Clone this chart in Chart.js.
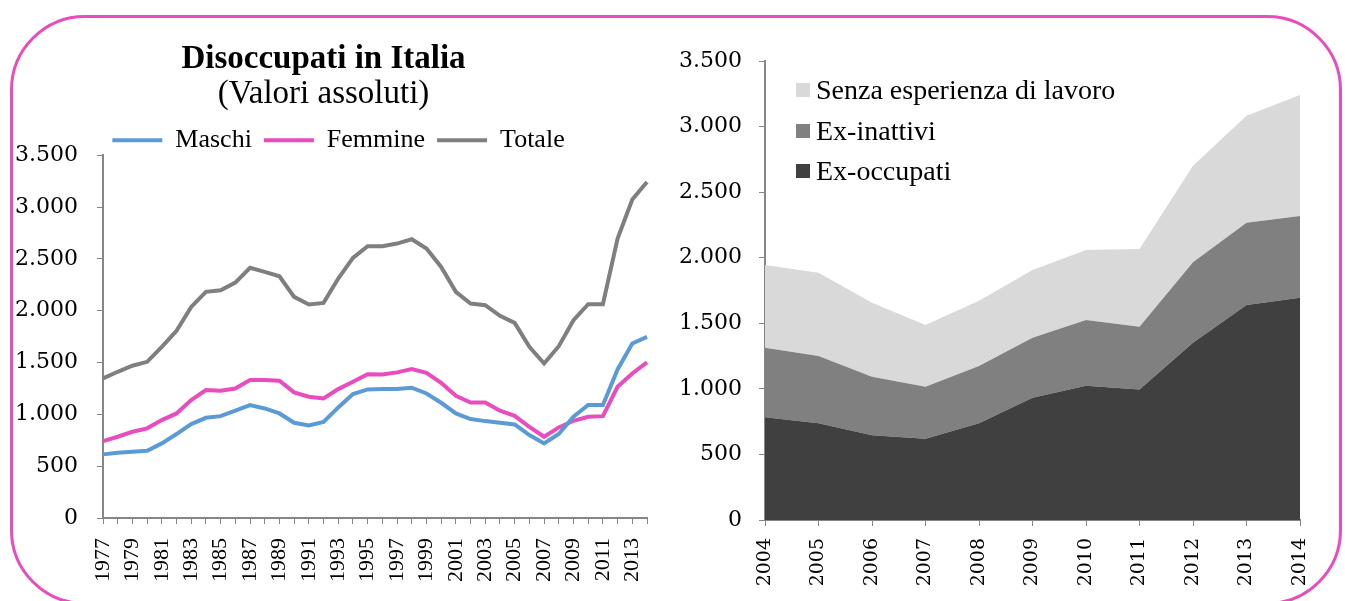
<!DOCTYPE html>
<html>
<head>
<meta charset="utf-8">
<script src="https://cdn.jsdelivr.net/npm/chart.js@4.4.1/dist/chart.umd.min.js"></script>
<style>
  body { margin: 0; background: #fff; }
  #wrap { position: relative; width: 1345px; height: 601px; overflow: hidden; background: #fff; }
  #frame { position: absolute; left: 10px; top: 15px; width: 1332px; height: 590px; box-sizing: border-box;
           border: 3px solid #e84cbe; border-radius: 75px; }
  canvas { position: absolute; top: 0; }
  #c1 { left: 0; }
  #c2 { left: 660px; }
  #legend2 { position: absolute; left: 796px; top: 70px; font-family: "Liberation Serif", serif; font-size: 28px; color: #000; }
  #legend2 div { height: 40.5px; display: flex; align-items: center; white-space: nowrap; }
  #legend2 span.box { display: inline-block; width: 14px; height: 14px; margin-right: 6px; }
</style>
</head>
<body>
<div id="wrap">
  <div id="frame"></div>
  <canvas id="c1" width="660" height="601"></canvas>
  <canvas id="c2" width="685" height="601"></canvas>
  <div id="legend2"></div>
</div>
<script>
// grafico a sinistra: serie storica 1977-2014 (migliaia)
const anniLunghi = ['1977','1978','1979','1980','1981','1982','1983','1984','1985','1986',
  '1987','1988','1989','1990','1991','1992','1993','1994','1995','1996',
  '1997','1998','1999','2000','2001','2002','2003','2004','2005','2006',
  '2007','2008','2009','2010','2011','2012','2013','2014'];
const maschi = [614, 630, 640, 649, 720, 810, 906, 967, 983, 1035,
  1090, 1057, 1009, 919, 893, 926, 1067, 1196, 1241, 1244,
  1244, 1257, 1202, 1112, 1009, 955, 935, 919, 903, 800,
  720, 810, 977, 1090, 1090, 1434, 1684, 1748];
const femmine = [742, 784, 832, 865, 945, 1009, 1138, 1234, 1228, 1250,
  1331, 1331, 1324, 1212, 1170, 1154, 1244, 1314, 1388, 1385,
  1405, 1437, 1401, 1305, 1179, 1115, 1115, 1035, 986, 880,
  784, 874, 938, 977, 983, 1266, 1395, 1501];
const totale = [1347, 1411, 1469, 1507, 1652, 1806, 2037, 2182, 2198, 2272,
  2414, 2375, 2333, 2134, 2060, 2076, 2311, 2510, 2622, 2622,
  2648, 2690, 2600, 2423, 2182, 2070, 2054, 1951, 1883, 1652,
  1491, 1658, 1909, 2063, 2063, 2697, 3073, 3243];

// grafico a destra: 2004-2014, aree sovrapposte
const anniBrevi = ['2004','2005','2006','2007','2008','2009','2010','2011','2012','2013','2014'];
const exOccupati = [783, 737, 646, 620, 737, 933, 1024, 996, 1352, 1639, 1695];
const exInattivi = [531, 513, 447, 397, 437, 457, 501, 478, 613, 628, 623];
const senzaEsperienza = [630, 636, 564, 470, 498, 516, 534, 592, 737, 816, 922];

const axisGrey = '#868686';

// 3500 -> "3.500"
function formatta(v) {
  if (v >= 1000) return Math.floor(v / 1000) + '.' + String(v % 1000).padStart(3, '0');
  return String(v);
}

const yTickFont = { family: 'DejaVu Serif', size: 22 };

// la legenda nell'originale è un po' spostata a destra rispetto al titolo
const spostaLegenda = {
  id: 'spostaLegenda',
  afterLayout(chart) {
    chart.legend.left += 15;
    chart.legend.right += 15;
  }
};

new Chart(document.getElementById('c1'), {
  type: 'line',
  data: {
    labels: anniLunghi,
    datasets: [
      { label: 'Maschi', data: maschi, borderColor: '#5b9bd5', backgroundColor: '#5b9bd5', borderWidth: 4, pointRadius: 0, tension: 0 },
      { label: 'Femmine', data: femmine, borderColor: '#e84cbe', backgroundColor: '#e84cbe', borderWidth: 4, pointRadius: 0, tension: 0 },
      { label: 'Totale', data: totale, borderColor: '#7f7f7f', backgroundColor: '#7f7f7f', borderWidth: 4, pointRadius: 0, tension: 0 }
    ]
  },
  plugins: [spostaLegenda],
  options: {
    responsive: false,
    animation: false,
    layout: { padding: { top: 42, right: 13, left: 0, bottom: 0 } },
    plugins: {
      title: {
        display: true, text: 'Disoccupati in Italia', color: '#000',
        font: { family: 'Liberation Serif', size: 33, weight: 'bold', lineHeight: 1.05 },
        padding: { top: 0, bottom: 0 }
      },
      subtitle: {
        display: true, text: '(Valori assoluti)', color: '#000',
        font: { family: 'Liberation Serif', size: 33, lineHeight: 1.05 },
        padding: { top: 0, bottom: 4 }
      },
      legend: {
        maxHeight: 40,
        labels: {
          boxWidth: 50, boxHeight: 4, padding: 12, color: '#000',
          font: { family: 'Liberation Serif', size: 26 },
          generateLabels: chart => Chart.defaults.plugins.legend.labels.generateLabels(chart)
            .map(l => Object.assign(l, { fillStyle: l.strokeStyle, lineWidth: 0 }))
        }
      },
      tooltip: { enabled: false }
    },
    scales: {
      x: {
        ticks: {
          autoSkip: false, maxRotation: 90, minRotation: 90, padding: 14, color: '#000',
          font: { family: 'Liberation Serif', size: 22 },
          callback: (v, i) => i % 2 === 0 ? anniLunghi[i] : ''
        },
        grid: { drawOnChartArea: false, tickLength: 6, color: axisGrey },
        border: { color: axisGrey, width: 2 },
        afterFit: s => { s.height = 83; s.paddingLeft = 0; s.paddingRight = 0; }
      },
      y: {
        min: 0, max: 3500,
        ticks: { stepSize: 500, padding: 19, color: '#000', font: yTickFont, callback: v => formatta(v) },
        grid: { drawOnChartArea: false, tickLength: 6, color: axisGrey },
        border: { color: axisGrey, width: 2 },
        afterFit: s => { s.width = 103; }
      }
    }
  }
});

const grafico2 = new Chart(document.getElementById('c2'), {
  type: 'line',
  data: {
    labels: anniBrevi,
    datasets: [
      { label: 'Ex-occupati', data: exOccupati, backgroundColor: '#404040', borderColor: '#404040', borderWidth: 0, pointRadius: 0, fill: 'origin' },
      { label: 'Ex-inattivi', data: exInattivi, backgroundColor: '#808080', borderColor: '#808080', borderWidth: 0, pointRadius: 0, fill: '-1' },
      { label: 'Senza esperienza di lavoro', data: senzaEsperienza, backgroundColor: '#d9d9d9', borderColor: '#d9d9d9', borderWidth: 0, pointRadius: 0, fill: '-1' }
    ]
  },
  options: {
    responsive: false,
    animation: false,
    layout: { padding: { top: 61, right: 45, left: 0, bottom: 0 } },
    plugins: { legend: { display: false }, tooltip: { enabled: false } },
    scales: {
      x: {
        ticks: {
          autoSkip: false, maxRotation: 90, minRotation: 90, padding: 12, color: '#000',
          font: { family: 'DejaVu Serif', size: 19 }
        },
        grid: { drawOnChartArea: false, tickLength: 6, color: axisGrey },
        border: { color: axisGrey, width: 2 },
        afterFit: s => { s.height = 81; }
      },
      y: {
        stacked: true, min: 0, max: 3500,
        ticks: { stepSize: 500, padding: 17, color: '#000', font: yTickFont, callback: v => formatta(v) },
        grid: { drawOnChartArea: false, tickLength: 6, color: axisGrey },
        border: { color: axisGrey, width: 2 },
        afterFit: s => { s.width = 105; }
      }
    }
  }
});

// legenda del grafico a destra, dentro l'area del grafico (ordine inverso)
const leg = document.getElementById('legend2');
grafico2.data.datasets.slice().reverse().forEach(ds => {
  const row = document.createElement('div');
  const box = document.createElement('span');
  box.className = 'box';
  box.style.background = ds.backgroundColor;
  row.appendChild(box);
  row.appendChild(document.createTextNode(ds.label));
  leg.appendChild(row);
});
</script>
</body>
</html>
